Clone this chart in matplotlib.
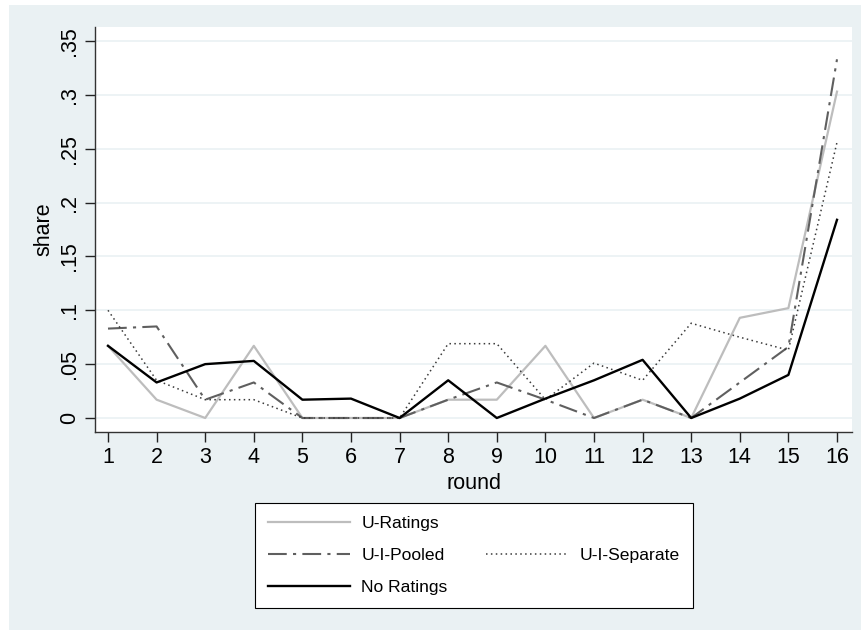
import matplotlib
matplotlib.use("Agg")
import matplotlib.pyplot as plt
from matplotlib.lines import Line2D
from matplotlib.patches import Rectangle
import numpy as np

plt.rcParams['font.family'] = ['Liberation Sans', 'DejaVu Sans']

rounds = list(range(1, 17))
u_ratings = [0.067, 0.017, 0.0, 0.067, 0.0, 0.0, 0.0, 0.017, 0.017, 0.067, 0.0, 0.017, 0.0, 0.093, 0.102, 0.303]
u_i_pooled = [0.083, 0.085, 0.017, 0.033, 0.0, 0.0, 0.0, 0.017, 0.033, 0.017, 0.0, 0.017, 0.0, 0.033, 0.066, 0.333]
u_i_separate = [0.100, 0.035, 0.017, 0.017, 0.0, 0.0, 0.0, 0.069, 0.069, 0.017, 0.051, 0.035, 0.088, 0.075, 0.063, 0.256]
no_ratings = [0.067, 0.033, 0.050, 0.053, 0.017, 0.018, 0.0, 0.035, 0.0, 0.018, 0.035, 0.054, 0.0, 0.018, 0.040, 0.184]

y_ticks = [0, 0.05, 0.1, 0.15, 0.2, 0.25, 0.3, 0.35]
y_labels = ['0', '.05', '.1', '.15', '.2', '.25', '.3', '.35']

W, H = 861, 630
bg = '#EAF1F3'
fig = plt.figure(figsize=(W / 100, H / 100), dpi=100)
fig.patch.set_facecolor('white')
fig.patches.append(Rectangle((9 / W, 0), 1 - 9 / W, 1 - 5 / H, transform=fig.transFigure,
                             facecolor=bg, edgecolor='none', zorder=-10))

ax = fig.add_axes([95 / W, 1 - 432 / H, (852 - 95) / W, (432 - 27) / H])
ax.set_facecolor('white')

ax.plot(rounds, u_ratings, color='#BDBDBD', lw=1.6, label='U-Ratings')
ax.plot(rounds, u_i_pooled, color='#5F5F5F', lw=1.5, dashes=(9, 3, 1.5, 3), label='U-I-Pooled')
ax.plot(rounds, u_i_separate, color='#3A3A3A', lw=1.1, dashes=(1, 2.2), label='U-I-Separate')
ax.plot(rounds, no_ratings, color='black', lw=1.7, label='No Ratings')

# x: round 1 at px 108, round 16 at px 837
px = (837 - 108) / 15
ax.set_xlim(1 - (108 - 95) / px, 16 + (852 - 837) / px)
# y: 0 at px 418, .35 at px 41
py = (418 - 41) / 0.35
ax.set_ylim(-(432 - 418) / py, 0.35 + (41 - 27) / py)

ax.set_xticks(rounds)
ax.set_yticks(y_ticks)
ax.set_yticklabels(y_labels, rotation=90, va='center')
ax.tick_params(axis='both', direction='out', length=7, width=1, labelsize=15.5, color='#222222')
ax.tick_params(axis='y', pad=4)
ax.grid(axis='y', color='#EAF1F3', lw=1.2)
ax.set_axisbelow(True)
for s in ['top', 'right']:
    ax.spines[s].set_visible(False)
for s in ['left', 'bottom']:
    ax.spines[s].set_color('#333333')
    ax.spines[s].set_linewidth(1)

ax.set_xlabel('round', fontsize=15.5, labelpad=4)
ax.set_ylabel('share', fontsize=15.5, labelpad=3)

h = ax.get_lines()
blank = Line2D([], [], color='none')
handles = [h[0], h[1], h[3], blank, h[2], blank]
labels = ['U-Ratings', 'U-I-Pooled', 'No Ratings', '', 'U-I-Separate', '']
leg = fig.legend(handles, labels, ncol=2, loc='upper left',
                 bbox_to_anchor=(255 / W, 1 - 503 / H), fontsize=12.6,
                 frameon=True, fancybox=False, edgecolor='black', facecolor='white',
                 framealpha=1, handlelength=4.7, handletextpad=0.63, columnspacing=2.2,
                 labelspacing=0.95, borderpad=0.75, borderaxespad=0)
leg.get_frame().set_linewidth(0.8)

fig.savefig('out.png', dpi=100)
